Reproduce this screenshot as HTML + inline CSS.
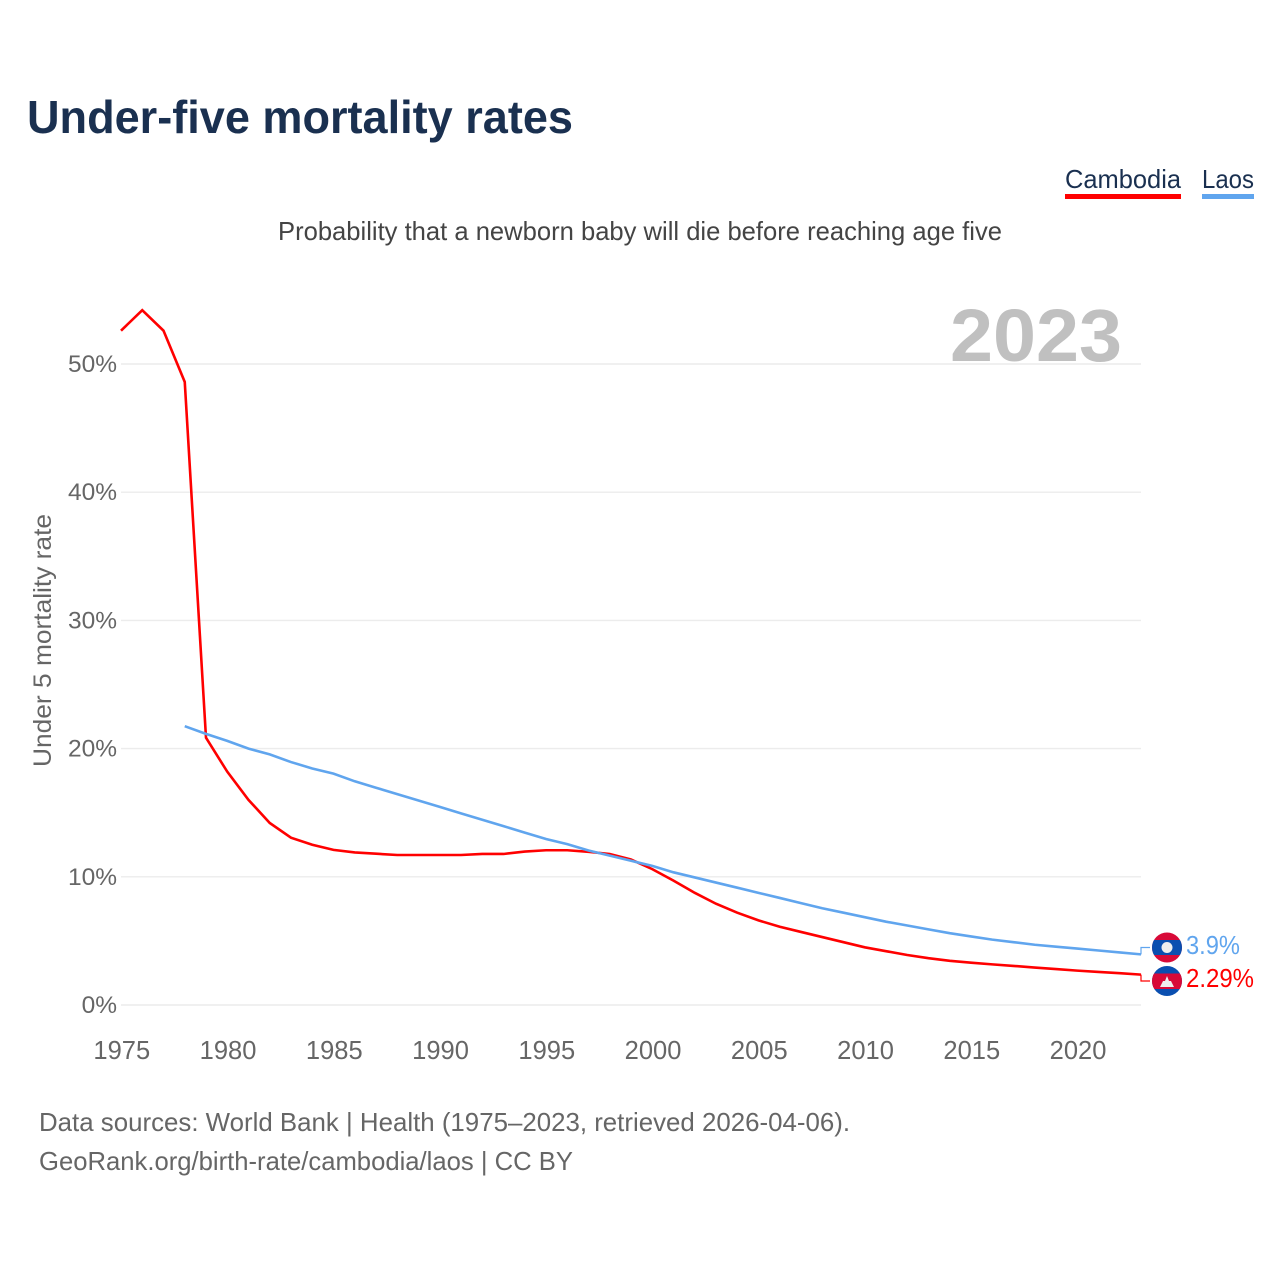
<!DOCTYPE html>
<html lang="en">
<head>
<meta charset="utf-8">
<title>Under-five mortality rates</title>
<style>
html,body{margin:0;padding:0;background:#fff;width:1280px;height:1280px;overflow:hidden}
svg{display:block;font-family:"Liberation Sans",sans-serif}
</style>
</head>
<body>
<svg id="chart" width="1280" height="1280" viewBox="0 0 1280 1280" xmlns="http://www.w3.org/2000/svg">
  <defs>
    <clipPath id="clip-laos"><circle cx="1167" cy="947.5" r="15"/></clipPath>
    <clipPath id="clip-cambodia"><circle cx="1167" cy="981" r="15"/></clipPath>
  </defs>
  <text x="27" y="133" font-size="46" font-weight="700" fill="#1a3050" textLength="546" lengthAdjust="spacingAndGlyphs">Under-five mortality rates</text>
  <text x="278" y="240" font-size="26" fill="#444" textLength="724" lengthAdjust="spacingAndGlyphs">Probability that a newborn baby will die before reaching age five</text>

  <g>
    <text x="1065" y="188" font-size="26" fill="#1a3050" textLength="116" lengthAdjust="spacingAndGlyphs">Cambodia</text>
    <rect x="1065" y="194" width="116" height="5" fill="#ff0000"/>
  </g>
  <g>
    <text x="1202" y="188" font-size="26" fill="#1a3050" textLength="52" lengthAdjust="spacingAndGlyphs">Laos</text>
    <rect x="1202" y="194" width="52" height="5" fill="#60a5ee"/>
  </g>

  <g id="grid"></g>
  <text x="950" y="361" font-size="74" font-weight="700" fill="#c0c0c0" textLength="172" lengthAdjust="spacingAndGlyphs">2023</text>
  <g id="y-ticks"></g>
  <g id="x-ticks"></g>
  <text transform="translate(51 640.5) rotate(-90)" text-anchor="middle" font-size="25" fill="#666" textLength="253" lengthAdjust="spacingAndGlyphs">Under 5 mortality rate</text>

  <g id="series"></g>

  <g clip-path="url(#clip-laos)">
    <rect x="1152" y="932" width="30" height="31" fill="#d80a38"/>
    <rect x="1152" y="940" width="30" height="15" fill="#0a4fb0"/>
    <circle cx="1167" cy="947.5" r="5.5" fill="#eee"/>
  </g>
  <g clip-path="url(#clip-cambodia)">
    <rect x="1152" y="966" width="30" height="30" fill="#0a4fb0"/>
    <rect x="1152" y="973.5" width="30" height="15.5" fill="#d80a38"/>
    <polygon points="1160,987 1163,981 1165,981 1167,976 1169,981 1171,981 1174,987" fill="#eee"/>
  </g>

  <text x="1186" y="954" font-size="25.5" fill="#60a5ee" textLength="54" lengthAdjust="spacingAndGlyphs">3.9%</text>
  <text x="1186" y="987" font-size="25.5" fill="#ff0000" textLength="68" lengthAdjust="spacingAndGlyphs">2.29%</text>

  <text x="39" y="1131" font-size="26" fill="#666" textLength="811" lengthAdjust="spacingAndGlyphs">Data sources: World Bank | Health (1975–2023, retrieved 2026-04-06).</text>
  <a><text x="39" y="1170" font-size="26" fill="#666" textLength="534" lengthAdjust="spacingAndGlyphs">GeoRank.org/birth-rate/cambodia/laos | CC BY</text></a>
</svg>
<script>
const cambodiaYears = [1975,1976,1977,1978,1979,1980,1981,1982,1983,1984,1985,1986,1987,1988,1989,1990,1991,1992,1993,1994,1995,1996,1997,1998,1999,2000,2001,2002,2003,2004,2005,2006,2007,2008,2009,2010,2011,2012,2013,2014,2015,2016,2017,2018,2019,2020,2021,2022,2023];
const cambodiaValues = [52.6,54.2,52.6,48.6,20.85,18.2,16.0,14.2,13.05,12.5,12.1,11.9,11.8,11.7,11.7,11.7,11.7,11.78,11.78,11.97,12.07,12.07,11.95,11.78,11.35,10.6,9.7,8.75,7.9,7.2,6.6,6.1,5.7,5.3,4.9,4.5,4.2,3.9,3.65,3.45,3.3,3.17,3.05,2.92,2.8,2.68,2.58,2.48,2.37];
const laosYears = [1978,1979,1980,1981,1982,1983,1984,1985,1986,1987,1988,1989,1990,1991,1992,1993,1994,1995,1996,1997,1998,1999,2000,2001,2002,2003,2004,2005,2006,2007,2008,2009,2010,2011,2012,2013,2014,2015,2016,2017,2018,2019,2020,2021,2022,2023];
const laosValues = [21.75,21.15,20.6,20.0,19.55,18.95,18.45,18.05,17.45,16.95,16.45,15.95,15.45,14.95,14.45,13.95,13.45,12.95,12.55,12.05,11.65,11.25,10.85,10.35,9.95,9.55,9.15,8.75,8.35,7.95,7.55,7.2,6.85,6.5,6.2,5.9,5.6,5.35,5.1,4.9,4.7,4.55,4.4,4.25,4.1,3.95];
const yTickValues = [0,10,20,30,40,50];
const xTickValues = [1975,1980,1985,1990,1995,2000,2005,2010,2015,2020];

const NS = 'http://www.w3.org/2000/svg';
const xMin = 1975, xMax = 2023, xLeft = 121, xRight = 1141;
const yBase = 1005, yTop = 364, yMaxVal = 50;
function xScale(v){ return xLeft + (v - xMin) * (xRight - xLeft) / (xMax - xMin); }
function yScale(v){ return yBase - v * (yBase - yTop) / yMaxVal; }
function make(tag, attrs, parent){
  const el = document.createElementNS(NS, tag);
  for (const k in attrs) el.setAttribute(k, attrs[k]);
  parent.appendChild(el);
  return el;
}

const gridG = document.getElementById('grid');
const yG = document.getElementById('y-ticks');
yTickValues.forEach(function(v){
  const line = make('line', {x1:xLeft, x2:xRight, y1:yScale(v), y2:yScale(v), stroke:'#ececec', 'stroke-width':1.4}, gridG);
  
  
  const label = make('text', {x:117, y:yScale(v)+8, 'text-anchor':'end', 'font-size':24.5, fill:'#666'}, yG);
  
  
  label.textContent = v + '%';
});

const xG = document.getElementById('x-ticks');
xTickValues.forEach(function(v){
  const label = make('text', {x:xScale(v)+0.8, y:1059, 'text-anchor':'middle', 'font-size':25.5, fill:'#666'}, xG);
  
  
  label.textContent = v;
});

const seriesG = document.getElementById('series');
function drawSeries(years, values, color, name, flagY){
  const lastX = xScale(years[years.length-1]);
  const lastY = yScale(values[values.length-1]);
  const pts = years.map(function(y,i){ return xScale(y).toFixed(2) + ',' + yScale(values[i]).toFixed(2); });
  const line = make('polyline', {points:pts.join(' '), fill:'none', stroke:color, 'stroke-width':2.6, 'stroke-linejoin':'miter'}, seriesG);
  
  
  const conn = make('polyline', {points:lastX+','+lastY+' '+lastX+','+flagY+' 1150,'+flagY, fill:'none', stroke:color, 'stroke-width':1.2}, seriesG);
  
  
}
drawSeries(cambodiaYears, cambodiaValues, '#ff0000', 'cambodia', 981);
drawSeries(laosYears, laosValues, '#60a5ee', 'laos', 947.5);
</script>
</body>
</html>
